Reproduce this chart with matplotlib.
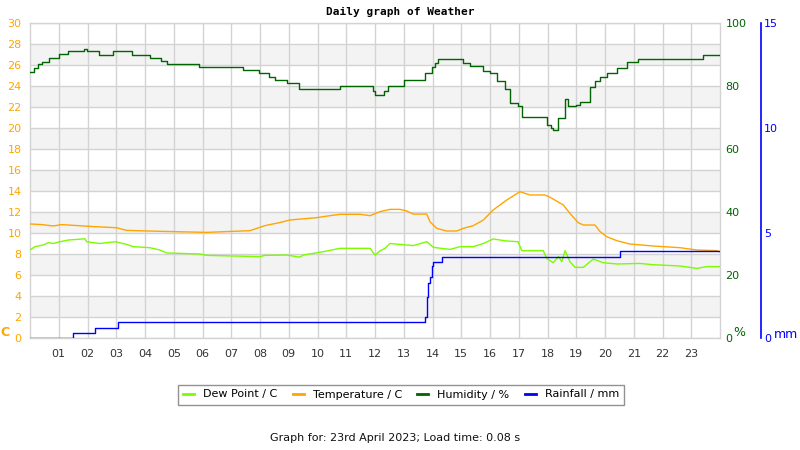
import matplotlib
matplotlib.use("Agg")
import matplotlib.pyplot as plt
from matplotlib.lines import Line2D

# ---- data (hours, values) ----
hum_t = [0.0, 0.15, 0.29, 0.41, 0.67, 1.02, 1.31, 1.88, 1.98, 2.41, 2.90, 3.56, 4.17, 4.56, 4.78,
         5.89, 7.40, 7.98, 8.32, 8.52, 8.93, 9.37, 10.78, 11.94, 12.0, 12.3, 12.46, 13.0, 13.74,
         13.8, 13.97, 14.09, 14.2, 15.07, 15.3, 15.77, 16.0, 16.23, 16.52, 16.7, 16.98, 17.1,
         17.97, 18.11, 18.18, 18.38, 18.6, 18.72, 19.0, 19.13, 19.48, 19.65, 19.83, 20.06, 20.41,
         20.75, 21.16, 23.4, 24.0]
hum_v = [84.5, 85.8, 86.9, 87.7, 88.8, 90.2, 91.0, 91.8, 91.0, 90.0, 91.0, 90.0, 88.8, 87.8, 86.9,
         85.9, 85.1, 84.1, 83.0, 81.8, 81.0, 79.0, 80.0, 78.4, 77.3, 78.4, 80.0, 81.9, 84.0,
         84.0, 86.1, 87.4, 88.7, 87.3, 86.3, 84.7, 84.2, 81.5, 78.9, 74.6, 73.5, 70.3,
         67.6, 66.6, 66.0, 69.7, 75.8, 73.7, 74.0, 75.0, 79.8, 81.6, 83.0, 84.2, 85.6,
         87.7, 88.7, 90.0, 90.0]

temp_t = [0.0, 0.41, 0.81, 1.1, 2.09, 3.01, 3.36, 4.52, 6.15, 7.65, 8.17, 8.45, 8.7, 9.04, 9.97,
          10.43, 10.78, 11.48, 11.83, 12.17, 12.52, 12.87, 13.1, 13.33, 13.8, 13.91, 14.15, 14.49,
          14.84, 15.07, 15.42, 15.77, 16.11, 16.58, 17.04, 17.39, 17.91, 18.09, 18.55, 18.78,
          19.07, 19.25, 19.65, 19.83, 20.06, 20.41, 20.87, 21.68, 22.61, 23.19, 23.89, 24.0]
temp_v = [10.86, 10.8, 10.67, 10.8, 10.63, 10.5, 10.25, 10.16, 10.06, 10.22, 10.7, 10.86, 11.0, 11.24,
          11.46, 11.65, 11.78, 11.78, 11.65, 12.03, 12.25, 12.25, 12.1, 11.8, 11.8, 11.08, 10.44,
          10.19, 10.19, 10.44, 10.7, 11.24, 12.19, 13.14, 13.93, 13.62, 13.62, 13.4, 12.67, 11.87,
          10.98, 10.76, 10.76, 10.13, 9.65, 9.27, 8.95, 8.76, 8.6, 8.38, 8.32, 8.2]

dew_t = [0.0, 0.17, 0.46, 0.64, 0.81, 1.04, 1.33, 1.91, 1.97, 2.43, 2.96, 3.36, 3.59, 4.17, 4.52,
         4.75, 5.91, 6.15, 8.0, 8.17, 8.93, 9.39, 9.5, 10.2, 10.78, 11.83, 12.0, 12.17, 12.35,
         12.52, 13.33, 13.8, 14.03, 14.61, 14.96, 15.42, 15.77, 16.11, 16.58, 16.98, 17.1, 17.85,
         17.97, 18.2, 18.38, 18.5, 18.61, 18.78, 18.96, 19.25, 19.59, 19.94, 20.41, 21.22, 21.68,
         22.61, 23.19, 23.54, 24.0]
dew_v = [8.38, 8.7, 8.86, 9.08, 9.0, 9.17, 9.33, 9.45, 9.17, 9.0, 9.17, 8.92, 8.7, 8.6, 8.38,
         8.1, 8.0, 7.87, 7.75, 7.87, 7.9, 7.7, 7.9, 8.22, 8.54, 8.54, 7.9, 8.3, 8.54,
         9.0, 8.8, 9.17, 8.63, 8.44, 8.7, 8.7, 9.0, 9.43, 9.24, 9.17, 8.32, 8.32,
         7.59, 7.17, 7.75, 7.27, 8.32, 7.27, 6.73, 6.73, 7.52, 7.17, 7.05, 7.1, 6.98,
         6.86, 6.63, 6.8, 6.8]

rain_t = [0.0, 1.49, 2.26, 3.07, 13.74, 13.8, 13.85, 13.91, 13.97, 14.03, 14.32, 20.52, 24.0]
rain_v = [0.0, 0.25, 0.5, 0.75, 1.0, 1.97, 2.6, 2.92, 3.43, 3.63, 3.84, 4.13, 4.13]

hour_ticks = list(range(1, 24))
hour_labels = ["%02d" % h for h in hour_ticks]
temp_ticks = list(range(0, 31, 2))
hum_ticks = [0, 20, 40, 60, 80, 100]
rain_ticks = [0, 5, 10, 15]

C_DEW = "#7CFC00"
C_TEMP = "#FFA500"
C_HUM = "#006400"
C_RAIN = "#0000FF"
GRID = "#d3d3d3"

W, H = 800, 450
fig = plt.figure(figsize=(8, 4.5), dpi=100)
L, R, T, B = 30, 720, 23, 338
ax = fig.add_axes([L / W, 1 - B / H, (R - L) / W, (B - T) / H])

ax.set_xlim(0, 24)
ax.set_ylim(0, 30)
for lo in range(2, 30, 4):
    ax.axhspan(lo, lo + 2, color="#f3f3f3", lw=0, zorder=0)
for y in temp_ticks:
    ax.axhline(y, color=GRID, lw=1.0, zorder=0.5)
for x in hour_ticks:
    ax.axvline(x, color=GRID, lw=1.0, zorder=0.5)
for s in ax.spines.values():
    s.set_color(GRID)
    s.set_linewidth(1.0)

ax.plot(dew_t, dew_v, color=C_DEW, lw=1.0, zorder=3)
ax.plot(temp_t, temp_v, color=C_TEMP, lw=1.0, zorder=3)

ax.set_xticks(hour_ticks)
ax.set_xticklabels(hour_labels)
ax.set_yticks(temp_ticks)
ax.tick_params(axis="x", length=0, pad=8, labelsize=8, labelcolor="#333333")
ax.tick_params(axis="y", length=0, pad=6, labelsize=8, labelcolor=C_TEMP)

axh = ax.twinx()
axh.set_ylim(0, 100)
axh.set_yticks(hum_ticks)
axh.tick_params(axis="y", length=0, pad=4, labelsize=8, labelcolor=C_HUM)
for s in axh.spines.values():
    s.set_visible(False)
axh.plot(hum_t, hum_v, color=C_HUM, lw=1.0, drawstyle="steps-post", zorder=3)

axr = ax.twinx()
axr.set_ylim(0, 15)
axr.set_yticks(rain_ticks)
for k, s in axr.spines.items():
    s.set_visible(k == "right")
axr.spines["right"].set_position(("outward", 41 * 0.72))
axr.spines["right"].set_color(C_RAIN)
axr.spines["right"].set_linewidth(1.2)
axr.tick_params(axis="y", length=0, pad=2, labelsize=8, labelcolor=C_RAIN)
axr.plot(rain_t, rain_v, color=C_RAIN, lw=1.0, drawstyle="steps-post", zorder=3)
axr.set_xlim(0, 24)

fig.text(400 / W, 1 - 12 / H, "Daily graph of Weather", ha="center", va="center",
         fontsize=8, fontweight="bold", family="DejaVu Sans Mono")
fig.text(5 / W, 1 - 333 / H, "C", ha="center", va="center", fontsize=9,
         fontweight="bold", color=C_TEMP)
fig.text(739 / W, 1 - 333 / H, "%", ha="center", va="center", fontsize=9, color=C_HUM)
fig.text(786 / W, 1 - 334 / H, "mm", ha="center", va="center", fontsize=9, color=C_RAIN)

handles = [Line2D([], [], color=C_DEW, lw=2), Line2D([], [], color=C_TEMP, lw=2),
           Line2D([], [], color=C_HUM, lw=2), Line2D([], [], color=C_RAIN, lw=2)]
labels = ["Dew Point / C", "Temperature / C", "Humidity / %", "Rainfall / mm"]
leg = fig.legend(handles, labels, loc="center", bbox_to_anchor=(401 / W, 1 - 394.5 / H), ncol=4,
                 fontsize=8, frameon=True, fancybox=False, handlelength=1.0, handletextpad=0.8,
                 columnspacing=1.4, borderpad=0.45, borderaxespad=0)
leg.get_frame().set_edgecolor("#777777")
leg.get_frame().set_linewidth(1.0)

fig.text(395 / W, 1 - 438 / H, "Graph for: 23rd April 2023; Load time: 0.08 s", ha="center",
         va="center", fontsize=8, color="#111111")

fig.savefig("out.png", dpi=100)
